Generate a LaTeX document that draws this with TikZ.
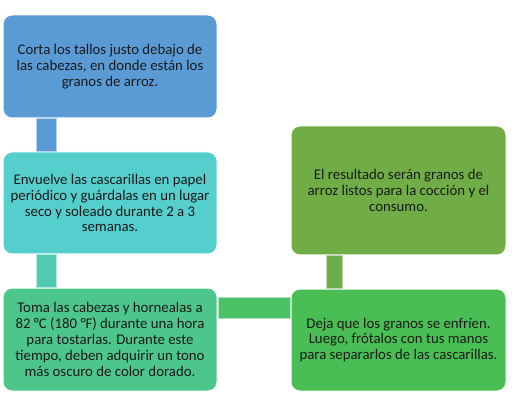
\documentclass[tikz,border=0pt]{standalone}
\usepackage{fontspec}
\setmainfont{Carlito}
\definecolor{cA}{HTML}{5B9BD5}
\definecolor{cB}{HTML}{55CECE}
\definecolor{cC}{HTML}{4DC68C}
\definecolor{cD}{HTML}{48BE55}
\definecolor{cE}{HTML}{70AD47}
\definecolor{kA}{HTML}{5B9BD5}
\definecolor{kB}{HTML}{51CAB4}
\definecolor{kC}{HTML}{4AC266}
\definecolor{kD}{HTML}{6BAE4A}
\definecolor{txt}{HTML}{1A1A1A}
\begin{document}
\begin{tikzpicture}[x=1pt,y=-1pt,
  box/.style={rectangle, rounded corners=9pt, draw=white, line width=1pt,
    inner sep=0pt, outer sep=0pt, align=center, text=txt,
    font=\fontsize{14.8}{15.9}\selectfont},
  bar/.style={draw=white!55!#1, line width=0.6pt, fill=#1}]
\useasboundingbox (0,0) rectangle (512,409);
\node[box, fill=cA, minimum width=214pt, minimum height=103pt] (b1) at (110,66.5)
  {Corta los tallos justo debajo de\\las cabezas, en donde están los\\granos de arroz.};
\node[box, fill=cB, minimum width=214pt, minimum height=102pt] (b2) at (110,203)
  {Envuelve las cascarillas en papel\\periódico y guárdalas en un lugar\\seco y soleado durante 2 a 3\\semanas.};
\node[box, fill=cC, minimum width=214pt, minimum height=103pt] (b3) at (110,339.5)
  {Toma las cabezas y hornealas a\\82 °C (180 °F) durante una hora\\para tostarlas. Durante este\\tiempo, deben adquirir un tono\\más oscuro de color dorado.};
\node[box, fill=cD, minimum width=215pt, minimum height=102pt] (b4) at (398.5,340)
  {Deja que los granos se enfríen.\\Luego, frótalos con tus manos\\para separarlos de las cascarillas.};
\node[box, fill=cE, minimum width=215pt, minimum height=129pt] (b5) at (398.5,190.5)
  {El resultado serán granos de\\arroz listos para la cocción y el\\consumo.};
\path[bar=kA] ([xshift=33pt,yshift=-0.7pt]b1.south west) rectangle ([xshift=53pt,yshift=0.7pt]b2.north west);
\path[bar=kB] ([xshift=33pt,yshift=-0.7pt]b2.south west) rectangle ([xshift=53pt,yshift=0.7pt]b3.north west);
\path[bar=kC] ([xshift=1pt,yshift=-9pt]b3.north east) rectangle ([xshift=-1pt,yshift=-29pt]b4.north west);
\path[bar=kD] ([xshift=35pt,yshift=-0.7pt]b5.south west) rectangle ([xshift=51pt,yshift=0.7pt]b4.north west);
\end{tikzpicture}
\end{document}
